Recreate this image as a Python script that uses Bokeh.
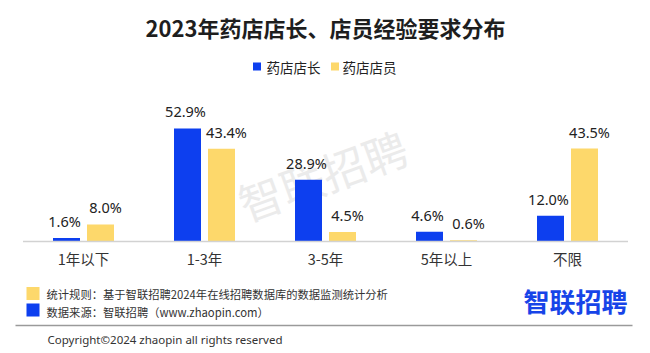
from bokeh.plotting import figure
from bokeh.models import ColumnDataSource, FactorRange, Range1d
from bokeh.transform import dodge
from bokeh.core.properties import value
from bokeh.embed import file_html
from bokeh.resources import INLINE

# ---- data ----
title = "2023年药店店长、店员经验要求分布"
categories = ["1年以下", "1-3年", "3-5年", "5年以上", "不限"]
series_names = ["药店店长", "药店店员"]
manager = [1.6, 52.9, 28.9, 4.6, 12.0]
staff = [8.0, 43.4, 4.5, 0.6, 43.5]
note_rule = "统计规则：基于智联招聘2024年在线招聘数据库的数据监测统计分析"
note_source = "数据来源：智联招聘（www.zhaopin.com）"
copyright_text = "Copyright©2024 zhaopin all rights reserved"
brand = "智联招聘"

# ---- style ----
BLUE = "#0D3FEF"
YELLOW = "#FDD86B"
CJK = value("Noto Sans CJK SC")
LAT = value("Noto Sans")

W, H = 650, 353
BASE = 241.0      # pixel row of the zero line
PXU = 2.137       # pixels per percent
BAND = 121.0      # pixels per category
PAD = (W - BAND * len(categories)) / BAND
LEFT = -PAD / 2


def X(px):
    return LEFT + px / BAND


def Y(py):
    return (BASE - py) / PXU


p = figure(width=W, height=H,
           x_range=FactorRange(*categories, range_padding=PAD / 2, range_padding_units="absolute"),
           y_range=Range1d((BASE - H) / PXU, BASE / PXU),
           x_axis_location=None, y_axis_location=None,
           output_backend="svg", toolbar_location=None, min_border=0)
p.grid.visible = False
p.outline_line_color = None
p.background_fill_color = "white"
p.border_fill_color = "white"

src = ColumnDataSource(dict(
    cat=categories, manager=manager, staff=staff,
    mlab=[f"{v:.1f}%" for v in manager],
    slab=[f"{v:.1f}%" for v in staff],
))

# watermark
p.text(x=[X(322)], y=[Y(174)], text=[brand], angle=20, angle_units="deg",
       text_font=CJK, text_font_size="44px", text_color="#ebebeb",
       text_align="center", text_baseline="middle")

OFF = 17.0 / BAND
BW = 27.0 / BAND
p.vbar(x=dodge("cat", -OFF, range=p.x_range), top="manager", width=BW, bottom=0,
       source=src, fill_color=BLUE, line_color=None)
p.vbar(x=dodge("cat", OFF, range=p.x_range), top="staff", width=BW, bottom=0,
       source=src, fill_color=YELLOW, line_color=None)

# value labels
p.text(x=dodge("cat", -OFF, range=p.x_range), y="manager", text="mlab", source=src,
       x_offset=-2, y_offset=-17, text_font=LAT, text_font_size="14.5px",
       text_color="#222222", text_align="center", text_baseline="middle")
p.text(x=dodge("cat", OFF, range=p.x_range), y="staff", text="slab", source=src,
       x_offset=5, y_offset=-17, text_font=LAT, text_font_size="14.5px",
       text_color="#222222", text_align="center", text_baseline="middle")

# baseline and category labels
p.segment(x0=[0], y0=[0], x1=[len(categories)], y1=[0], line_color="#d2d2d2", line_width=1.5)
p.text(x="cat", y=0, text="cat", source=src, y_offset=17, text_font=CJK,
       text_font_size="14.5px", text_color="#333333", text_align="center",
       text_baseline="middle")

# title
p.text(x=[X(325)], y=[Y(26)], text=[title], text_font=CJK, text_font_size="22px",
       text_font_style="bold", text_color="#1e1e1e", text_align="center",
       text_baseline="middle")

# legend
p.scatter(x=[X(256.5), X(334.5)], y=[Y(66), Y(66)], marker="square", size=8,
          fill_color=[BLUE, YELLOW], line_color=None)
p.text(x=[X(266), X(342)], y=[Y(66), Y(66)], text=series_names, text_font=CJK,
       text_font_size="13.5px", text_color="#222222", text_align="left",
       text_baseline="middle")

# footer
p.scatter(x=[X(32.5), X(32.5)], y=[Y(293), Y(309.5)], marker="square", size=13,
          fill_color=[YELLOW, BLUE], line_color=None)
p.text(x=[X(46), X(46)], y=[Y(293), Y(311)], text=[note_rule, note_source],
       text_font=CJK, text_font_size="11.3px", text_color="#333333",
       text_align="left", text_baseline="middle")
p.segment(x0=[X(15)], y0=[Y(325)], x1=[X(632)], y1=[Y(325)], line_color="#9a9a9a",
          line_width=1.5)
p.text(x=[X(47)], y=[Y(339)], text=[copyright_text], text_font=LAT,
       text_font_size="11.5px", text_color="#333333", text_align="left",
       text_baseline="middle")
p.text(x=[X(575)], y=[Y(300)], text=[brand], text_font=CJK, text_font_size="26px",
       text_font_style="bold", text_color="#1744E8", text_align="center",
       text_baseline="middle")

open("out.html", "w").write(file_html(p, INLINE))
